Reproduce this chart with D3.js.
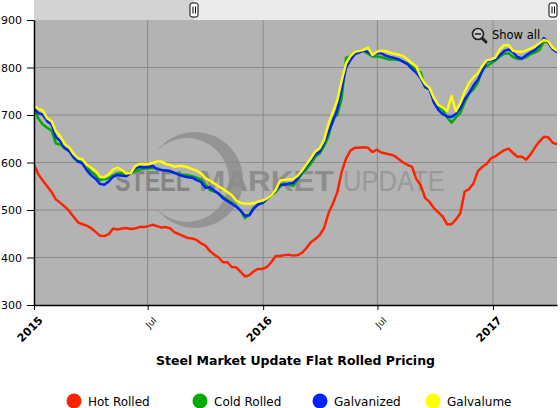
<!DOCTYPE html>
<html lang="en">
<head>
<meta charset="UTF-8">
<title>Steel Market Update Flat Rolled Pricing</title>
<script src="https://cdn.jsdelivr.net/npm/d3@7"></script>
<style>
  body { margin: 0; background: #fff; }
  svg { display: block; font-family: "DejaVu Sans", Verdana, sans-serif; }
</style>
</head>
<body>
<div id="chart"></div>
<script>
// weekly prices ($/ton), first week starting 2015-01-01
const startDate = new Date(2015, 0, 1);

const hotRolled = [
  595,575,562,550,538,522,515,507,498,486,
  474,470,467,462,454,446,445,449,461,459,
  461,462,460,461,464,464,466,469,466,463,
  464,461,453,449,445,441,440,437,430,425,
  414,406,400,390,390,380,379,370,360,363,
  371,376,376,380,390,403,403,405,406,404,
  405,410,420,432,439,447,462,493,513,537,
  580,608,625,631,631,632,631,622,627,621,
  619,617,614,607,600,595,591,565,552,525,
  517,504,495,486,470,470,480,493,539,544,
  556,582,591,597,609,613,620,626,629,620,
  612,612,606,617,632,644,654,653,642,638
];
const coldRolled = [
  714,692,680,673,667,640,638,630,626,611,
  603,601,593,580,574,563,565,567,573,577,
  577,576,579,582,585,587,588,588,588,584,
  583,581,578,576,574,573,571,568,564,554,
  542,539,535,528,521,515,509,499,483,490,
  505,511,514,523,531,538,549,556,553,551,
  564,577,586,598,612,619,635,655,693,700,
  735,820,824,833,835,835,829,823,823,822,
  819,817,817,816,813,808,802,795,790,758,
  755,730,716,711,695,684,695,704,727,745,
  754,768,796,802,809,815,823,829,830,822,
  818,818,822,828,832,837,854,853,839,833
];
const galvanized = [
  714,704,701,687,680,653,645,630,624,611,
  602,598,584,573,566,555,553,560,570,574,
  572,571,578,588,591,590,590,593,586,584,
  583,582,578,574,571,569,568,563,559,547,
  548,541,534,525,519,513,507,499,488,489,
  503,512,515,523,532,541,553,553,556,557,
  567,580,593,605,617,623,641,664,686,712,
  755,800,816,828,832,835,833,825,830,830,
  825,822,820,817,812,807,797,789,777,759,
  754,726,711,702,697,696,702,714,733,746,
  762,774,792,812,815,817,826,835,838,832,
  822,819,826,832,837,846,862,853,839,832
];
const galvalume = [
  719,713,709,693,687,665,655,638,632,618,
  609,607,595,589,582,570,569,575,585,589,
  584,577,578,592,597,597,597,599,602,602,
  597,595,591,593,592,590,586,583,577,567,
  562,556,550,544,538,531,520,515,513,513,
  514,518,520,524,531,542,562,563,565,565,
  572,583,596,609,623,630,647,681,706,730,
  772,809,824,833,835,837,842,826,833,835,
  835,831,829,827,824,817,809,802,780,765,
  757,736,721,716,709,740,708,725,749,768,
  779,788,803,815,817,821,838,847,847,835,
  833,833,836,840,844,851,858,855,842,835
];

const seriesNames = ["Hot Rolled", "Cold Rolled", "Galvanized", "Galvalume"];
const seriesColors = ["#ff2200", "#00aa00", "#0022ff", "#ffff00"];
const tickDates = ["2015-01-01", "2015-07-01", "2016-01-01", "2016-07-01", "2017-01-01"];
const tickLabels = ["2015", "Jul", "2016", "Jul", "2017"];
const yTicks = [300, 400, 500, 600, 700, 800, 900];

const w = 560, h = 408;
const pl = 34, pr = 557, pt = 20, pb = 305;

const dates = hotRolled.map((v, i) => d3.timeDay.offset(startDate, 7 * i));
const tickDateObjs = tickDates.map(d => d3.timeParse("%Y-%m-%d")(d));
const series = [hotRolled, coldRolled, galvanized, galvalume].map((vals, k) => ({
  name: seriesNames[k], color: seriesColors[k], values: vals
}));

const x = d3.scaleTime().domain([dates[0], dates[dates.length - 1]]).range([pl, pr]);
const y = d3.scaleLinear().domain([300, 900]).range([pb, pt]);

const svg = d3.select("#chart").append("svg").attr("width", w).attr("height", h);

// scrollbar strip on top
svg.append("rect").attr("x", pl).attr("y", 0).attr("width", pr - pl).attr("height", pt).attr("fill", "#ebebeb");
svg.append("rect").attr("x", pl).attr("y", 0).attr("width", 194 - pl).attr("height", pt).attr("fill", "#d3d3d3");
[194, 553].forEach(hx => {
  const g = svg.append("g").attr("transform", `translate(${hx},10)`);
  g.append("rect").attr("x", -4).attr("y", -7).attr("width", 8).attr("height", 14)
    .attr("rx", 2).attr("fill", "#fff").attr("stroke", "#000").attr("stroke-width", 1);
  g.append("line").attr("x1", -1).attr("x2", -1).attr("y1", -3.5).attr("y2", 3.5).attr("stroke", "#000");
  g.append("line").attr("x1", 1.5).attr("x2", 1.5).attr("y1", -3.5).attr("y2", 3.5).attr("stroke", "#000");
});

// plot background
svg.append("rect").attr("x", pl).attr("y", pt).attr("width", pr - pl).attr("height", pb - pt).attr("fill", "#b3b3b3");

// watermark logo
const wm = svg.append("g").attr("pointer-events", "none");
wm.append("path")
  .attr("d", "M157.25,150.4 A48,48 0 1 1 157.25,209.6 A42,42 0 1 0 157.25,150.4 Z")
  .attr("fill", "#8e8e8e").attr("opacity", 0.85);
const wmWords = [
  { text: "STEEL", x: 115, width: 75, weight: "bold", color: "#848484" },
  { text: "MARKET", x: 199, width: 135, weight: "bold", color: "#8d8d8d" },
  { text: "UPDATE", x: 343, width: 102, weight: "normal", color: "#999" }
];
wmWords.forEach(d => {
  const g = wm.append("g");
  const t = g.append("text").attr("x", 0).attr("y", 0)
    .attr("font-family", "Liberation Sans, Arial, sans-serif")
    .attr("font-weight", d.weight).attr("font-size", 30).attr("fill", d.color).text(d.text);
  const natural = t.node().getComputedTextLength();
  g.attr("transform", `translate(${d.x},191) scale(${d.width / natural},1)`);
});

// grid
svg.append("g").selectAll("line").data(yTicks.filter(v => v > 300 && v < 900)).enter().append("line")
  .attr("x1", pl).attr("x2", pr).attr("y1", d => y(d)).attr("y2", d => y(d))
  .attr("stroke", "#8a8a8a").attr("stroke-width", 1);
svg.append("g").selectAll("line").data(tickDateObjs.slice(1)).enter().append("line")
  .attr("x1", d => x(d)).attr("x2", d => x(d)).attr("y1", pt).attr("y2", pb)
  .attr("stroke", "#8a8a8a").attr("stroke-width", 1);

// lines
svg.append("clipPath").attr("id", "clip").append("rect")
  .attr("x", pl).attr("y", pt).attr("width", pr - pl).attr("height", pb - pt);
const line = d3.line().x((d, i) => x(dates[i])).y(d => y(d));
svg.append("g").attr("clip-path", "url(#clip)").selectAll("path").data(series).enter().append("path")
  .attr("d", d => line(d.values)).attr("fill", "none").attr("stroke", d => d.color)
  .attr("stroke-width", 2.5).attr("stroke-linejoin", "round");

// axes
const yAxis = svg.append("g").attr("transform", `translate(${pl},0)`)
  .call(d3.axisLeft(y).tickValues(yTicks).tickSize(7).tickPadding(5).tickSizeOuter(0));
yAxis.select(".domain").attr("stroke", "#000").attr("stroke-width", 1.5);
yAxis.selectAll("text").attr("font-size", 11).attr("fill", "#000").attr("font-family", "DejaVu Sans, Verdana, sans-serif");

const xAxis = svg.append("g").attr("transform", `translate(0,${pb})`)
  .call(d3.axisBottom(x).tickValues(tickDateObjs).tickSize(5).tickSizeOuter(0)
    .tickFormat((d, i) => tickLabels[i]));
xAxis.select(".domain").attr("stroke", "#000").attr("stroke-width", 1.5);
xAxis.selectAll("text")
  .attr("y", 0).attr("dy", null)
  .attr("text-anchor", "end")
  .attr("transform", "translate(9,16) rotate(-45)")
  .attr("fill", "#000")
  .attr("font-family", "DejaVu Sans, Verdana, sans-serif")
  .attr("font-size", (d, i) => tickLabels[i] === "Jul" ? 9 : 11)
  .attr("font-weight", (d, i) => tickLabels[i] === "Jul" ? "normal" : "bold");

// "Show all" zoom-out button
const zb = svg.append("g").attr("transform", "translate(478,34)");
zb.append("line").attr("x1", 3.5).attr("y1", 3.5).attr("x2", 8).attr("y2", 8)
  .attr("stroke", "#222").attr("stroke-width", 3).attr("stroke-linecap", "round");
zb.append("circle").attr("r", 5.5).attr("fill", "#c8c8c8").attr("stroke", "#222").attr("stroke-width", 1.6);
zb.append("line").attr("x1", -3).attr("x2", 3).attr("y1", 0).attr("y2", 0).attr("stroke", "#222").attr("stroke-width", 1.6);
svg.append("text").attr("x", 492).attr("y", 39).attr("font-size", 11.5).attr("fill", "#000").text("Show all");

// title
svg.append("text").attr("x", (pl + pr) / 2).attr("y", 365).attr("text-anchor", "middle")
  .attr("font-size", 12.5).attr("font-weight", "bold").attr("fill", "#000")
  .text("Steel Market Update Flat Rolled Pricing");

// legend
const legendX = [74, 200, 320, 433];
const lg = svg.append("g").selectAll("g").data(series).enter().append("g")
  .attr("transform", (d, i) => `translate(${legendX[i]},401)`);
lg.append("circle").attr("r", 7.5).attr("fill", d => d.color);
lg.append("text").attr("x", 14).attr("y", 4.5).attr("font-size", 12).attr("fill", "#000").text(d => d.name);
</script>
</body>
</html>
